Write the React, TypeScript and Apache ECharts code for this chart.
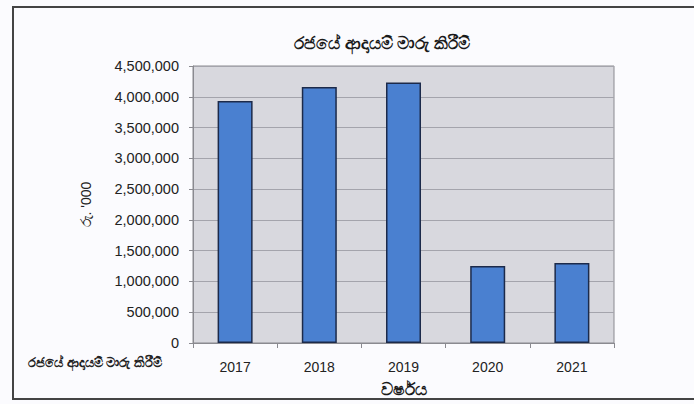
import React, { useEffect, useRef } from "react";
import * as echarts from "echarts";

const TITLE = "රජයේ ආදායම් මාරු කිරීම්";
const SERIES_NAME = "රජයේ ආදායම් මාරු කිරීම්";
const Y_NAME = "රු. '000";
const X_NAME = "වර්ෂය";
const years = ["2017", "2018", "2019", "2020", "2021"];
const values = [3930000, 4160000, 4230000, 1250000, 1300000];

const FONT = "'Liberation Sans', Arial, 'Noto Sans', sans-serif";

export default function App() {
  const ref = useRef<HTMLDivElement>(null);
  useEffect(() => {
    if (!ref.current) return;
    const chart = echarts.init(ref.current, undefined, { renderer: "svg" });
    chart.setOption({
      animation: false,
      backgroundColor: "#fbfbfe",
      title: {
        text: TITLE,
        left: 377,
        top: 30,
        textAlign: "center",
        textStyle: { fontFamily: FONT, fontSize: 17, fontWeight: "bold", color: "#1a1a1a" },
      },
      grid: { left: 193, top: 66, width: 421, height: 277, show: true, backgroundColor: "#d8d8de", borderColor: "#8a8a90", borderWidth: 1 },
      xAxis: {
        type: "category",
        data: years,
        name: X_NAME,
        nameLocation: "middle",
        nameGap: 38,
        nameTextStyle: { fontFamily: FONT, fontSize: 17, fontWeight: "bold", color: "#1a1a1a" },
        axisLine: { show: true, lineStyle: { color: "#8a8a90" } },
        axisTick: { show: true, alignWithLabel: false, lineStyle: { color: "#8a8a90" } },
        axisLabel: { fontFamily: FONT, fontSize: 14, color: "#222", margin: 17 },
      },
      yAxis: {
        type: "value",
        min: 0,
        max: 4500000,
        interval: 500000,
        name: Y_NAME,
        nameLocation: "middle",
        nameGap: 100,
        nameRotate: 90,
        nameTextStyle: { fontFamily: FONT, fontSize: 14, color: "#222" },
        axisLine: { show: true, lineStyle: { color: "#8a8a90" } },
        axisTick: { show: true, length: 4, lineStyle: { color: "#8a8a90" } },
        axisLabel: {
          fontFamily: FONT,
          fontSize: 14.5,
          color: "#222",
          margin: 14,
          formatter: (v: number) => v.toLocaleString("en-US"),
        },
        splitLine: { show: true, lineStyle: { color: "#a4a4ac", width: 1 } },
      },
      series: [
        {
          name: SERIES_NAME,
          type: "bar",
          data: values,
          barWidth: 35,
          itemStyle: { color: "#4a80d0", borderColor: "#1c2a4a", borderWidth: 1.5 },
        },
      ],
      graphic: [
        {
          type: "rect",
          shape: { x: 13, y: 7, width: 700, height: 392 },
          style: { fill: "none", stroke: "#444", lineWidth: 2 },
          silent: true,
        },
        {
          type: "text",
          x: 28,
          y: 362,
          style: { text: SERIES_NAME, fontFamily: FONT, fontSize: 13, fontWeight: "bold", fill: "#222", verticalAlign: "middle" },
        },
      ],
    });
    return () => chart.dispose();
  }, []);
  return <div ref={ref} style={{ position: "fixed", left: 0, top: 0, width: 694, height: 404 }} />;
}
